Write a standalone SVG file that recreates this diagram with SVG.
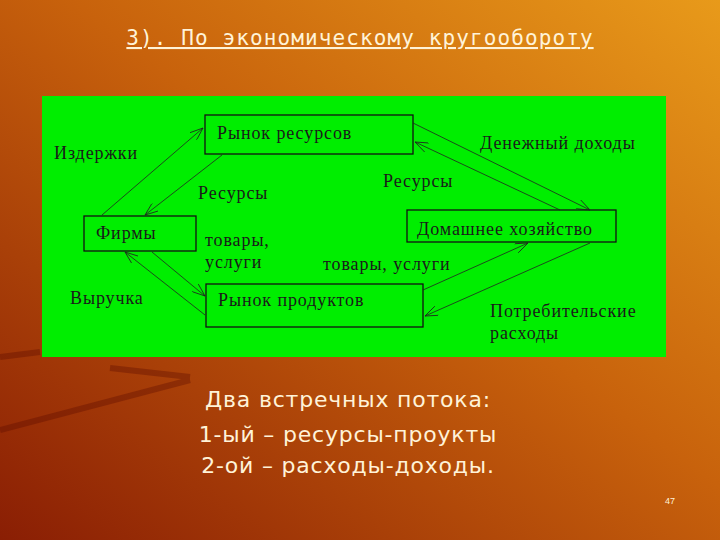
<svg xmlns="http://www.w3.org/2000/svg" width="720" height="540" viewBox="0 0 720 540">
<defs>
<linearGradient id="bg" x1="1" y1="0" x2="0" y2="1">
<stop offset="0" stop-color="#E89A1A"/>
<stop offset="0.45" stop-color="#C8620C"/>
<stop offset="1" stop-color="#8A1E04"/>
</linearGradient>
<marker id="ah" markerWidth="14" markerHeight="10" refX="13" refY="5" orient="auto" markerUnits="userSpaceOnUse">
<path d="M0,0 L13,5 L0,10" fill="none" stroke="#222" stroke-width="0.8"/>
</marker>
<style>
.box{fill:none;stroke:#111;stroke-width:1.3}
.lbl{font-family:"Liberation Serif",serif;font-size:18px;letter-spacing:0.9px;fill:#1a1a1a}
.c{stroke:#222;stroke-width:0.8;fill:none;marker-end:url(#ah)}
.w{font-family:"DejaVu Sans",sans-serif;font-size:22px;letter-spacing:0.8px;fill:#FFF3D8}
</style>
</defs>
<rect width="720" height="540" fill="url(#bg)"/>
<g opacity="0.35" stroke="#5A0A00" fill="none" stroke-width="6">
<path d="M0,357 L40,352"/><path d="M110,368 L190,377"/><path d="M0,430 L190,380"/>
</g>
<text x="360" y="45" text-anchor="middle" font-family="DejaVu Sans Mono,monospace" font-size="21" letter-spacing="1.1" fill="#FFF3D8" text-decoration="underline">3). По экономическому кругообороту</text>
<rect x="42" y="96" width="624" height="261" fill="#00EE00"/>
<g id="rynok-resursov"><rect class="box" x="205" y="115" width="208" height="39"/><text class="lbl" x="217" y="139">Рынок ресурсов</text></g>
<g id="firmy"><rect class="box" x="84" y="216" width="112" height="35"/><text class="lbl" x="96" y="239">Фирмы</text></g>
<g id="domashnee"><rect class="box" x="407" y="210" width="209" height="32"/><text class="lbl" x="417" y="235">Домашнее хозяйство</text></g>
<g id="rynok-produktov"><rect class="box" x="206" y="284" width="217" height="43"/><text class="lbl" x="218" y="306">Рынок продуктов</text></g>
<g id="connectors">
<line class="c" x1="102" y1="215" x2="203" y2="128"/>
<line class="c" x1="222" y1="155" x2="145" y2="215"/>
<line class="c" x1="152" y1="252" x2="205" y2="296"/>
<line class="c" x1="205" y1="315" x2="125" y2="252"/>
<line class="c" x1="413" y1="123" x2="590" y2="210"/>
<line class="c" x1="560" y1="210" x2="415" y2="142"/>
<line class="c" x1="423" y1="290" x2="528" y2="243"/>
<line class="c" x1="590" y1="243" x2="425" y2="316"/>
</g>
<g id="labels">
<text class="lbl" x="54" y="159">Издержки</text>
<text class="lbl" x="198" y="199">Ресурсы</text>
<text class="lbl" x="383" y="187">Ресурсы</text>
<text class="lbl" x="480" y="149">Денежный доходы</text>
<text class="lbl" x="205" y="246">товары,</text>
<text class="lbl" x="205" y="268">услуги</text>
<text class="lbl" x="323" y="270">товары, услуги</text>
<text class="lbl" x="70" y="304">Выручка</text>
<text class="lbl" x="490" y="317">Потребительские</text>
<text class="lbl" x="490" y="339">расходы</text>
</g>
<text class="w" x="348" y="407" text-anchor="middle">Два встречных потока:</text>
<text class="w" x="348" y="442" text-anchor="middle">1-ый – ресурсы-проукты</text>
<text class="w" x="348" y="473" text-anchor="middle">2-ой – расходы-доходы.</text>
<text x="670" y="504" text-anchor="middle" font-family="Liberation Sans,sans-serif" font-size="9" fill="#FFF3D8">47</text>
</svg>
